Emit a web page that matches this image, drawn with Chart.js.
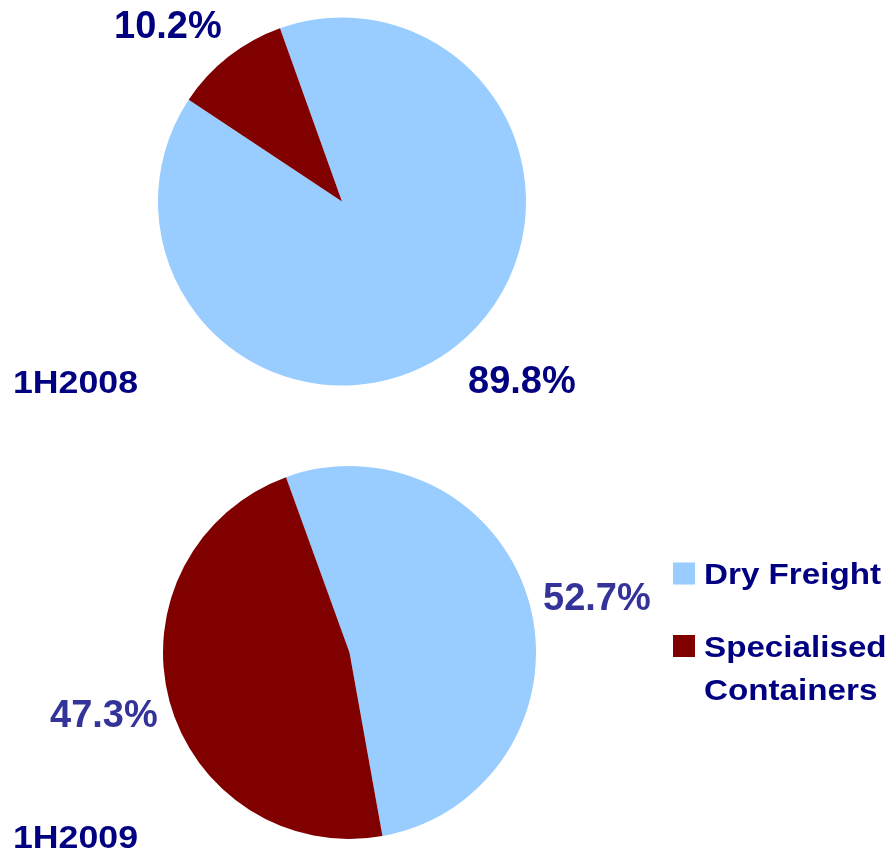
<!DOCTYPE html>
<html>
<head>
<meta charset="utf-8">
<script src="https://cdn.jsdelivr.net/npm/chart.js@4.4.1/dist/chart.umd.min.js"></script>
<style>
  html, body { margin: 0; padding: 0; background: #fff; }
  #wrap { position: relative; width: 888px; height: 856px; }
  #wrap canvas { position: absolute; left: 0; }
</style>
</head>
<body>
<div id="wrap">
  <canvas id="pie2008" width="888" height="428" style="top:0"></canvas>
  <canvas id="pie2009" width="888" height="428" style="top:428px"></canvas>
</div>
<script>
// Revenue split by container type
const categories = ['Dry Freight', ['Specialised', 'Containers']];
const periods = ['1H2008', '1H2009'];
const share2008 = [89.8, 10.2];
const share2009 = [52.7, 47.3];

const sliceColors = ['#99CCFF', '#800000'];
const FONT = '"Liberation Sans", Arial, sans-serif';

// Percent labels, title and legend drawn on top of each pie
const annotate = {
    id: 'annotate',
    afterDraw(chart, args, opts) {
        const ctx = chart.ctx;
        const values = chart.data.datasets[0].data;
        ctx.save();
        ctx.textBaseline = 'alphabetic';
        ctx.textAlign = 'left';

        ctx.fillStyle = opts.pctColor;
        ctx.font = 'bold 38px ' + FONT;
        values.forEach((v, i) => {
            const p = opts.pctPos[i];
            ctx.fillText(v.toFixed(1) + '%', p[0], p[1]);
        });

        // period title, slightly widened like the rest of the bold captions
        ctx.fillStyle = '#000080';
        ctx.font = 'bold 32px ' + FONT;
        ctx.save();
        ctx.translate(opts.titlePos[0], opts.titlePos[1]);
        ctx.scale(1.115, 1);
        ctx.fillText(opts.title, 0, 0);
        ctx.restore();

        if (opts.legend) {
            const lg = opts.legend;
            ctx.font = 'bold 29.5px ' + FONT;
            chart.data.labels.forEach((lab, i) => {
                const top = lg.y[i];
                ctx.fillStyle = sliceColors[i];
                ctx.fillRect(lg.x, top, 22, 22);
                ctx.fillStyle = '#000080';
                const lines = Array.isArray(lab) ? lab : [lab];
                lines.forEach((line, k) => {
                    ctx.save();
                    ctx.translate(lg.x + 31, top + 21.5 + k * 43);
                    ctx.scale(1.125, 1);
                    ctx.fillText(line, 0, 0);
                    ctx.restore();
                });
            });
        }
        ctx.restore();
    }
};

const makePie = (id, values, rotation, padding, labelOpts) => new Chart(document.getElementById(id), {
    type: 'pie',
    data: {
        labels: categories,
        datasets: [{
            data: values,
            backgroundColor: sliceColors,
            borderWidth: 0,
            hoverOffset: 0
        }]
    },
    options: {
        responsive: false,
        animation: false,
        rotation: rotation,
        layout: { padding: padding },
        events: [],
        plugins: {
            legend: { display: false },
            tooltip: { enabled: false },
            annotate: labelOpts
        }
    },
    plugins: [annotate]
});

makePie('pie2008', share2008, -19.7,
    { left: 158, right: 362, top: 17.5, bottom: 42.5 },
    {
        pctColor: '#000080',
        pctPos: [[468, 392.5], [114, 37.5]],
        title: periods[0],
        titlePos: [13, 393]
    });

makePie('pie2009', share2009, -19.9,
    { left: 163, right: 352, top: 38, bottom: 17 },
    {
        pctColor: '#333399',
        pctPos: [[543, 182], [50, 298.5]],
        title: periods[1],
        titlePos: [13, 420],
        legend: { x: 673, y: [134.5, 207] }
    });
</script>
</body>
</html>
